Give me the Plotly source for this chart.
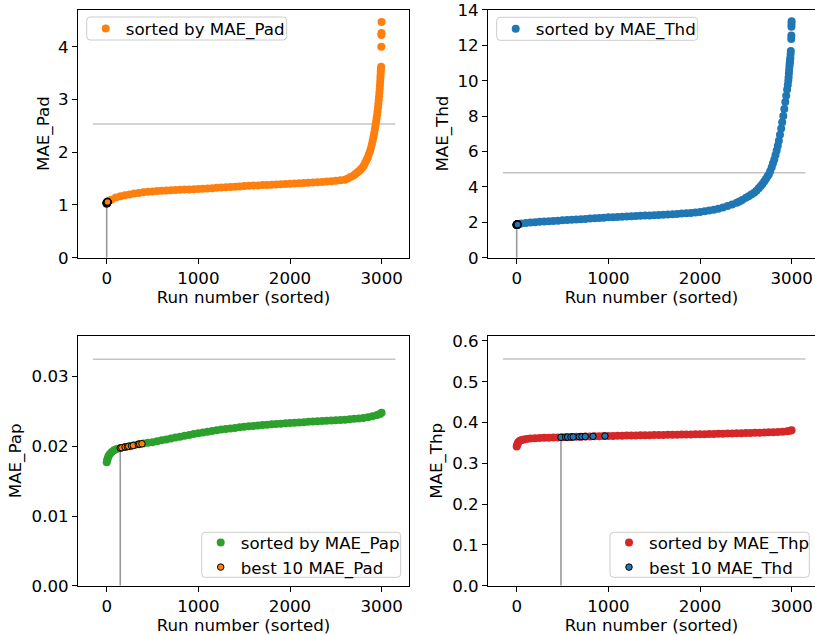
import plotly.graph_objects as go

# ---------------- data ----------------
pad_runs = [0, 10, 25, 50, 100, 150, 200, 250, 300, 350, 400, 450, 500, 550, 600, 650, 700, 750, 800, 850,
            900, 950, 1000, 1050, 1100, 1150, 1200, 1250, 1300, 1350, 1400, 1450, 1500, 1550, 1600, 1650,
            1700, 1750, 1800, 1850, 1900, 1950, 2000, 2050, 2100, 2150, 2200, 2250, 2300, 2350, 2400, 2450,
            2500, 2550, 2600, 2630, 2660, 2690, 2710, 2730, 2750, 2770, 2790, 2805, 2820, 2835, 2848, 2860,
            2872, 2883, 2893, 2902, 2910, 2918, 2925, 2932, 2938, 2944, 2950, 2955, 2960, 2964, 2968, 2972,
            2975, 2978, 2981, 2984, 2986, 2988, 2990, 2992, 2994, 2996, 2997, 2998, 2999]
pad_values = [1.03, 1.06, 1.08, 1.10, 1.14, 1.165, 1.185, 1.20, 1.215, 1.228, 1.24, 1.248, 1.256, 1.263, 1.27,
              1.275, 1.279, 1.283, 1.287, 1.291, 1.295, 1.299, 1.303, 1.308, 1.313, 1.318, 1.324, 1.33, 1.336,
              1.342, 1.347, 1.352, 1.357, 1.362, 1.367, 1.371, 1.376, 1.38, 1.384, 1.388, 1.392, 1.396, 1.40,
              1.405, 1.41, 1.415, 1.42, 1.425, 1.43, 1.436, 1.443, 1.45, 1.458, 1.467, 1.48, 1.50, 1.53, 1.555,
              1.58, 1.61, 1.64, 1.67, 1.71, 1.75, 1.80, 1.85, 1.90, 1.96, 2.02, 2.08, 2.15, 2.22, 2.29, 2.36,
              2.43, 2.50, 2.57, 2.64, 2.71, 2.78, 2.85, 2.92, 2.99, 3.06, 3.13, 3.20, 3.27, 3.34, 3.41, 3.47,
              3.53, 3.58, 3.62, 4.00, 4.22, 4.26, 4.47]

thd_runs = [0, 10, 25, 50, 100, 150, 200, 250, 300, 350, 400, 450, 500, 550, 600, 650, 700, 750, 800, 850,
            900, 950, 1000, 1050, 1100, 1150, 1200, 1250, 1300, 1350, 1400, 1450, 1500, 1550, 1600, 1650,
            1700, 1750, 1800, 1850, 1900, 1950, 2000, 2050, 2100, 2150, 2200, 2250, 2300, 2350, 2400, 2430,
            2460, 2500, 2530, 2560, 2590, 2615, 2640, 2660, 2680, 2700, 2718, 2735, 2750, 2765, 2782, 2796,
            2810, 2823, 2836, 2848, 2860, 2872, 2885, 2896, 2908, 2919, 2930, 2940, 2950, 2957, 2963, 2966,
            2969, 2972, 2975, 2978, 2980, 2983, 2985, 2988, 2990, 2995, 2996, 2997, 2998, 2999]
thd_values = [1.86, 1.88, 1.91, 1.93, 1.96, 1.985, 2.005, 2.025, 2.04, 2.06, 2.075, 2.09, 2.11, 2.125, 2.14,
              2.16, 2.175, 2.19, 2.21, 2.225, 2.24, 2.26, 2.28, 2.29, 2.30, 2.315, 2.33, 2.34, 2.35, 2.365,
              2.38, 2.39, 2.40, 2.415, 2.43, 2.44, 2.45, 2.47, 2.49, 2.51, 2.53, 2.555, 2.585, 2.62, 2.66,
              2.71, 2.77, 2.84, 2.92, 3.01, 3.11, 3.18, 3.26, 3.38, 3.47, 3.57, 3.67, 3.78, 3.92, 4.04, 4.17,
              4.30, 4.45, 4.58, 4.70, 4.88, 5.11, 5.33, 5.55, 5.80, 6.05, 6.32, 6.60, 6.95, 7.30, 7.65, 8.00,
              8.40, 8.80, 9.15, 9.50, 9.75, 10.00, 10.20, 10.40, 10.60, 10.80, 10.95, 11.05, 11.20, 11.30,
              11.50, 11.67, 12.35, 12.55, 13.05, 13.20, 13.35]

pap_runs = [0, 5, 12, 20, 35, 55, 80, 110, 150, 200, 250, 300, 350, 400, 450, 500, 550, 600, 650, 700, 750,
            800, 850, 900, 950, 1000, 1050, 1100, 1150, 1200, 1250, 1300, 1350, 1400, 1450, 1500, 1550, 1600,
            1650, 1700, 1750, 1800, 1850, 1900, 1950, 2000, 2050, 2100, 2150, 2200, 2250, 2300, 2350, 2400,
            2450, 2500, 2550, 2600, 2650, 2700, 2750, 2800, 2850, 2900, 2950, 2980, 2999]
pap_values = [0.0177, 0.0180, 0.0183, 0.0186, 0.0189, 0.0192, 0.01945, 0.0196, 0.01975, 0.0199, 0.0200,
              0.02015, 0.0203, 0.0204, 0.0205, 0.0206, 0.02073, 0.02086, 0.02099, 0.02112, 0.02125, 0.02138,
              0.0215, 0.02163, 0.02176, 0.02188, 0.0220, 0.0221, 0.0222, 0.0223, 0.0224, 0.02248, 0.02256,
              0.02264, 0.02272, 0.0228, 0.02287, 0.02293, 0.02299, 0.02305, 0.0231, 0.02315, 0.0232, 0.02325,
              0.0233, 0.02335, 0.02339, 0.02343, 0.02347, 0.02351, 0.02355, 0.02359, 0.02363, 0.02367,
              0.02371, 0.02375, 0.02379, 0.02383, 0.02388, 0.02394, 0.0240, 0.02408, 0.02418, 0.0243, 0.0245,
              0.02465, 0.0248]

thp_runs = [0, 5, 12, 20, 35, 55, 80, 110, 150, 200, 250, 300, 350, 400, 450, 500, 550, 600, 650, 700, 750,
            800, 850, 900, 950, 1000, 1050, 1100, 1150, 1200, 1250, 1300, 1350, 1400, 1450, 1500, 1550, 1600,
            1650, 1700, 1750, 1800, 1850, 1900, 1950, 2000, 2050, 2100, 2150, 2200, 2250, 2300, 2350, 2400,
            2450, 2500, 2550, 2600, 2650, 2700, 2750, 2800, 2850, 2900, 2950, 2980, 2999]
thp_values = [0.341, 0.345, 0.349, 0.352, 0.355, 0.357, 0.3585, 0.3595, 0.3605, 0.3613, 0.3619, 0.3624,
              0.3628, 0.3632, 0.3635, 0.3638, 0.3641, 0.3645, 0.3648, 0.3651, 0.3655, 0.3658, 0.3661, 0.3664,
              0.3667, 0.3669, 0.3672, 0.3674, 0.3677, 0.3679, 0.3681, 0.3684, 0.3686, 0.3688, 0.369, 0.3692,
              0.3694, 0.3696, 0.3698, 0.370, 0.3702, 0.3704, 0.3706, 0.3708, 0.371, 0.3712, 0.3714, 0.3717,
              0.3719, 0.3722, 0.3725, 0.3728, 0.3731, 0.3734, 0.3737, 0.374, 0.3743, 0.3747, 0.3751, 0.3755,
              0.3759, 0.3764, 0.3769, 0.3775, 0.3784, 0.3795, 0.381]

# best-10 runs of each "d" metric, located in their own and in the "p" ranking
best_pad_runs_own = [0, 1, 2, 3, 4, 5, 6, 7, 8, 9]
best_pad_values_own = [1.03, 1.035, 1.04, 1.042, 1.045, 1.048, 1.05, 1.053, 1.056, 1.058]
best_thd_runs_own = [0, 1, 2, 3, 4, 5, 6, 7, 8, 9]
best_thd_values_own = [1.86, 1.862, 1.865, 1.867, 1.87, 1.872, 1.875, 1.877, 1.88, 1.882]

best_pad_runs_in_pap = [148, 165, 200, 225, 240, 270, 290, 345, 360, 385]
best_pad_values_in_pap = [0.01975, 0.0198, 0.0199, 0.01995, 0.0200, 0.02006, 0.02012, 0.02029, 0.02032, 0.02037]
best_thd_runs_in_thp = [483, 534, 556, 592, 617, 683, 712, 748, 832, 963]
best_thd_values_in_thp = [0.3637, 0.364, 0.3642, 0.3644, 0.3646, 0.3651, 0.3653, 0.3655, 0.3661, 0.3668]

threshold_values = [2.535, 4.80, 0.0325, 0.5556]
threshold_span = [-150, 3150]

x_ticks = [0, 1000, 2000, 3000]
y_ticks_pad = [0, 1, 2, 3, 4]
y_ticks_thd = [0, 2, 4, 6, 8, 10, 12, 14]
y_ticks_pap = [0, 0.01, 0.02, 0.03]
y_ticks_thp = [0, 0.1, 0.2, 0.3, 0.4, 0.5, 0.6]

# ---------------- styling ----------------
ORANGE, BLUE, GREEN, RED = "#ff7f0e", "#1f77b4", "#2ca02c", "#d62728"
HCOL, VCOL = "#c4c4c4", "#9a9a9a"
FS = 16.67
FONT = dict(family="DejaVu Sans, sans-serif", size=FS, color="black")
W, H = 815, 635

fig = go.Figure()

panels = [
    ("", pad_runs, pad_values, ORANGE, "sorted by MAE_Pad", best_pad_runs_own, best_pad_values_own, ORANGE, None, "legend"),
    ("2", thd_runs, thd_values, BLUE, "sorted by MAE_Thd", best_thd_runs_own, best_thd_values_own, BLUE, None, "legend2"),
    ("3", pap_runs, pap_values, GREEN, "sorted by MAE_Pap", best_pad_runs_in_pap, best_pad_values_in_pap, ORANGE, "best 10 MAE_Pad", "legend3"),
    ("4", thp_runs, thp_values, RED, "sorted by MAE_Thp", best_thd_runs_in_thp, best_thd_values_in_thp, BLUE, "best 10 MAE_Thd", "legend4"),
]

for i, (sfx, runs, vals, col, name, bruns, bvals, bcol, bname, leg) in enumerate(panels):
    xa, ya = "x" + sfx, "y" + sfx
    fig.add_trace(go.Scatter(x=threshold_span, y=[threshold_values[i]] * 2, mode="lines",
                             line=dict(color=HCOL, width=1.6), showlegend=False, hoverinfo="skip",
                             xaxis=xa, yaxis=ya))
    fig.add_trace(go.Scatter(x=[bruns[0], bruns[0]], y=[0, bvals[0]], mode="lines",
                             line=dict(color=VCOL, width=1.6), showlegend=False, hoverinfo="skip",
                             xaxis=xa, yaxis=ya))
    fig.add_trace(go.Scatter(x=runs, y=vals, mode="markers", name=name,
                             marker=dict(color=col, size=8, line=dict(width=0)),
                             legend=leg, xaxis=xa, yaxis=ya))
    if bname is None:
        fig.add_trace(go.Scatter(x=bruns, y=bvals, mode="markers", showlegend=False,
                                 marker=dict(color=bcol, size=7, line=dict(color="black", width=1.5)),
                                 xaxis=xa, yaxis=ya))
    else:
        fig.add_trace(go.Scatter(x=bruns, y=bvals, mode="markers", name=bname,
                                 marker=dict(color=bcol, size=6.5, line=dict(color="black", width=1)),
                                 legend=leg, xaxis=xa, yaxis=ya))

# geometry (pixel positions of the axes boxes)
left_x = [78 / W, 409 / W]
right_x = [488 / W, 1.0]
top_y = [1 - 257.7 / H, 1 - 9.5 / H]
bot_y = [1 - 585.7 / H, 1 - 336 / H]

common_x = dict(showgrid=False, zeroline=False, showline=True, linecolor="black", linewidth=1,
                ticks="outside", ticklen=5, tickwidth=1, tickcolor="black", tickvals=x_ticks,
                tickfont=FONT, automargin=False,
                title=dict(text="Run number (sorted)", font=FONT, standoff=0))
common_y = dict(showgrid=False, zeroline=False, showline=True, linecolor="black", linewidth=1,
                ticks="outside", ticklen=5, tickwidth=1, tickcolor="black", tickfont=FONT, automargin=False)

fig.update_layout(
    width=W, height=H, margin=dict(l=0, r=0, t=0, b=0),
    paper_bgcolor="white", plot_bgcolor="white", font=FONT,
    xaxis=dict(common_x, domain=left_x, range=[-313, 3298], anchor="y", mirror=True),
    yaxis=dict(common_y, domain=top_y, range=[0, 4.705], anchor="x", mirror=True,
               tickvals=y_ticks_pad, title=dict(text="MAE_Pad", font=FONT, standoff=4)),
    xaxis2=dict(common_x, domain=right_x, range=[-313, 3254], anchor="y2", mirror=True),
    yaxis2=dict(common_y, domain=top_y, range=[0, 14.02], anchor="x2", mirror=False,
                tickvals=y_ticks_thd, title=dict(text="MAE_Thd", font=FONT, standoff=4)),
    xaxis3=dict(common_x, domain=left_x, range=[-313, 3298], anchor="y3", mirror=True),
    yaxis3=dict(common_y, domain=bot_y, range=[0, 0.03583], anchor="x3", mirror=True,
                tickvals=y_ticks_pap, tickformat=".2f", title=dict(text="MAE_Pap", font=FONT, standoff=5)),
    xaxis4=dict(common_x, domain=right_x, range=[-313, 3254], anchor="y4", mirror=True),
    yaxis4=dict(common_y, domain=bot_y, range=[0, 0.612], anchor="x4", mirror=False,
                tickvals=y_ticks_thp, tickformat=".1f", title=dict(text="MAE_Thp", font=FONT, standoff=5)),
)

# legends: plotly legends without their own frame; a rounded frame is drawn as a shape
leg_common = dict(font=FONT, bgcolor="rgba(0,0,0,0)", borderwidth=0, itemwidth=30, tracegroupgap=0,
                  xanchor="left", yanchor="top")
# (left edge px, top edge px, right edge px, bottom edge px, rows)
legend_boxes = {
    "legend": (86.7, 17.0, 286.7, 40.0, 1),
    "legend2": (496.7, 17.3, 697.7, 40.3, 1),
    "legend3": (201.7, 532.3, 400.7, 577.3, 2),
    "legend4": (610.0, 532.3, 809.3, 577.3, 2),
}
shapes = []
legends = {}
for key, (l, t, r, b, rows) in legend_boxes.items():
    mid = (t + b) / 2
    top = mid - (17.35 if rows == 1 else 29.7)
    legends[key] = dict(leg_common, x=(l - 1) / W, y=1 - top / H)
    x0, x1, y0, y1 = l / W, r / W, 1 - b / H, 1 - t / H
    rx, ry = 3.5 / W, 3.5 / H
    path = (f"M {x0 + rx},{y0} L {x1 - rx},{y0} Q {x1},{y0} {x1},{y0 + ry} L {x1},{y1 - ry} "
            f"Q {x1},{y1} {x1 - rx},{y1} L {x0 + rx},{y1} Q {x0},{y1} {x0},{y1 - ry} "
            f"L {x0},{y0 + ry} Q {x0},{y0} {x0 + rx},{y0} Z")
    shapes.append(dict(type="path", path=path, xref="paper", yref="paper", layer="above",
                       fillcolor="rgba(255,255,255,0.8)", line=dict(color="#cccccc", width=1)))

fig.update_layout(shapes=shapes, **legends)

fig.write_html("out.html", config={"displayModeBar": False})
